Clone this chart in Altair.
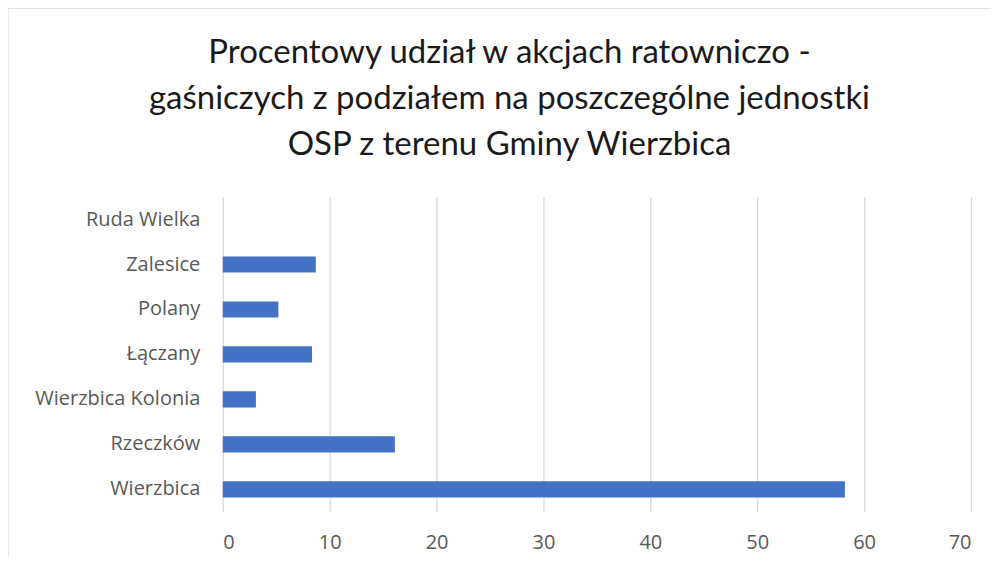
import altair as alt
import pandas as pd

units = ["Ruda Wielka", "Zalesice", "Polany", "Łączany", "Wierzbica Kolonia", "Rzeczków", "Wierzbica"]
shares = [0.0, 8.7, 5.2, 8.35, 3.1, 16.1, 58.2]
x_ticks = [0, 10, 20, 30, 40, 50, 60, 70]
title_lines = ["Procentowy udział w akcjach ratowniczo -",
               "gaśniczych z podziałem na poszczególne jednostki",
               "OSP z terenu Gminy Wierzbica"]

df = pd.DataFrame({"unit": units, "share": shares})

W, H = 749, 315
font = "Lato"
axis_font = "Open Sans"

bars = alt.Chart(df).mark_bar(color="#4472C4").encode(
    x=alt.X("share:Q", scale=alt.Scale(domain=[0, 70], nice=False),
            axis=alt.Axis(values=x_ticks, title=None, grid=True, gridColor="#d9d9d9",
                          gridWidth=1.3, domain=False, ticks=False, labelFontSize=20,
                          labelColor="#595959", labelPadding=21, labelFont=axis_font)),
    y=alt.Y("unit:N", sort=units, scale=alt.Scale(paddingInner=0.64, paddingOuter=0.32),
            axis=alt.Axis(title=None, domain=False, ticks=False, labelFontSize=20,
                          labelColor="#595959", labelPadding=23, labelFont=axis_font)),
)

frame = alt.Chart(pd.DataFrame({"k": [1]})).mark_rect(
    fill=None, stroke="#d9d9d9", strokeWidth=1
).encode(
    x=alt.value(-215), x2=alt.value(W + 40),
    y=alt.value(-189), y2=alt.value(H + 80),
)

chart = alt.layer(frame, bars).properties(
    width=W, height=H,
    padding={"left": 215, "top": 189, "right": 20, "bottom": 45},
    autosize=alt.AutoSizeParams(type="none"),
    title=alt.TitleParams(text=title_lines, fontSize=33, font=font, fontWeight="normal",
                          color="#1a1a1a", anchor="middle", lineHeight=46, frame="bounds",
                          baseline="top", offset=0, dy=154),
).configure_view(stroke=None)

chart.save("out.html", embed_options={"renderer": "svg", "actions": False})
